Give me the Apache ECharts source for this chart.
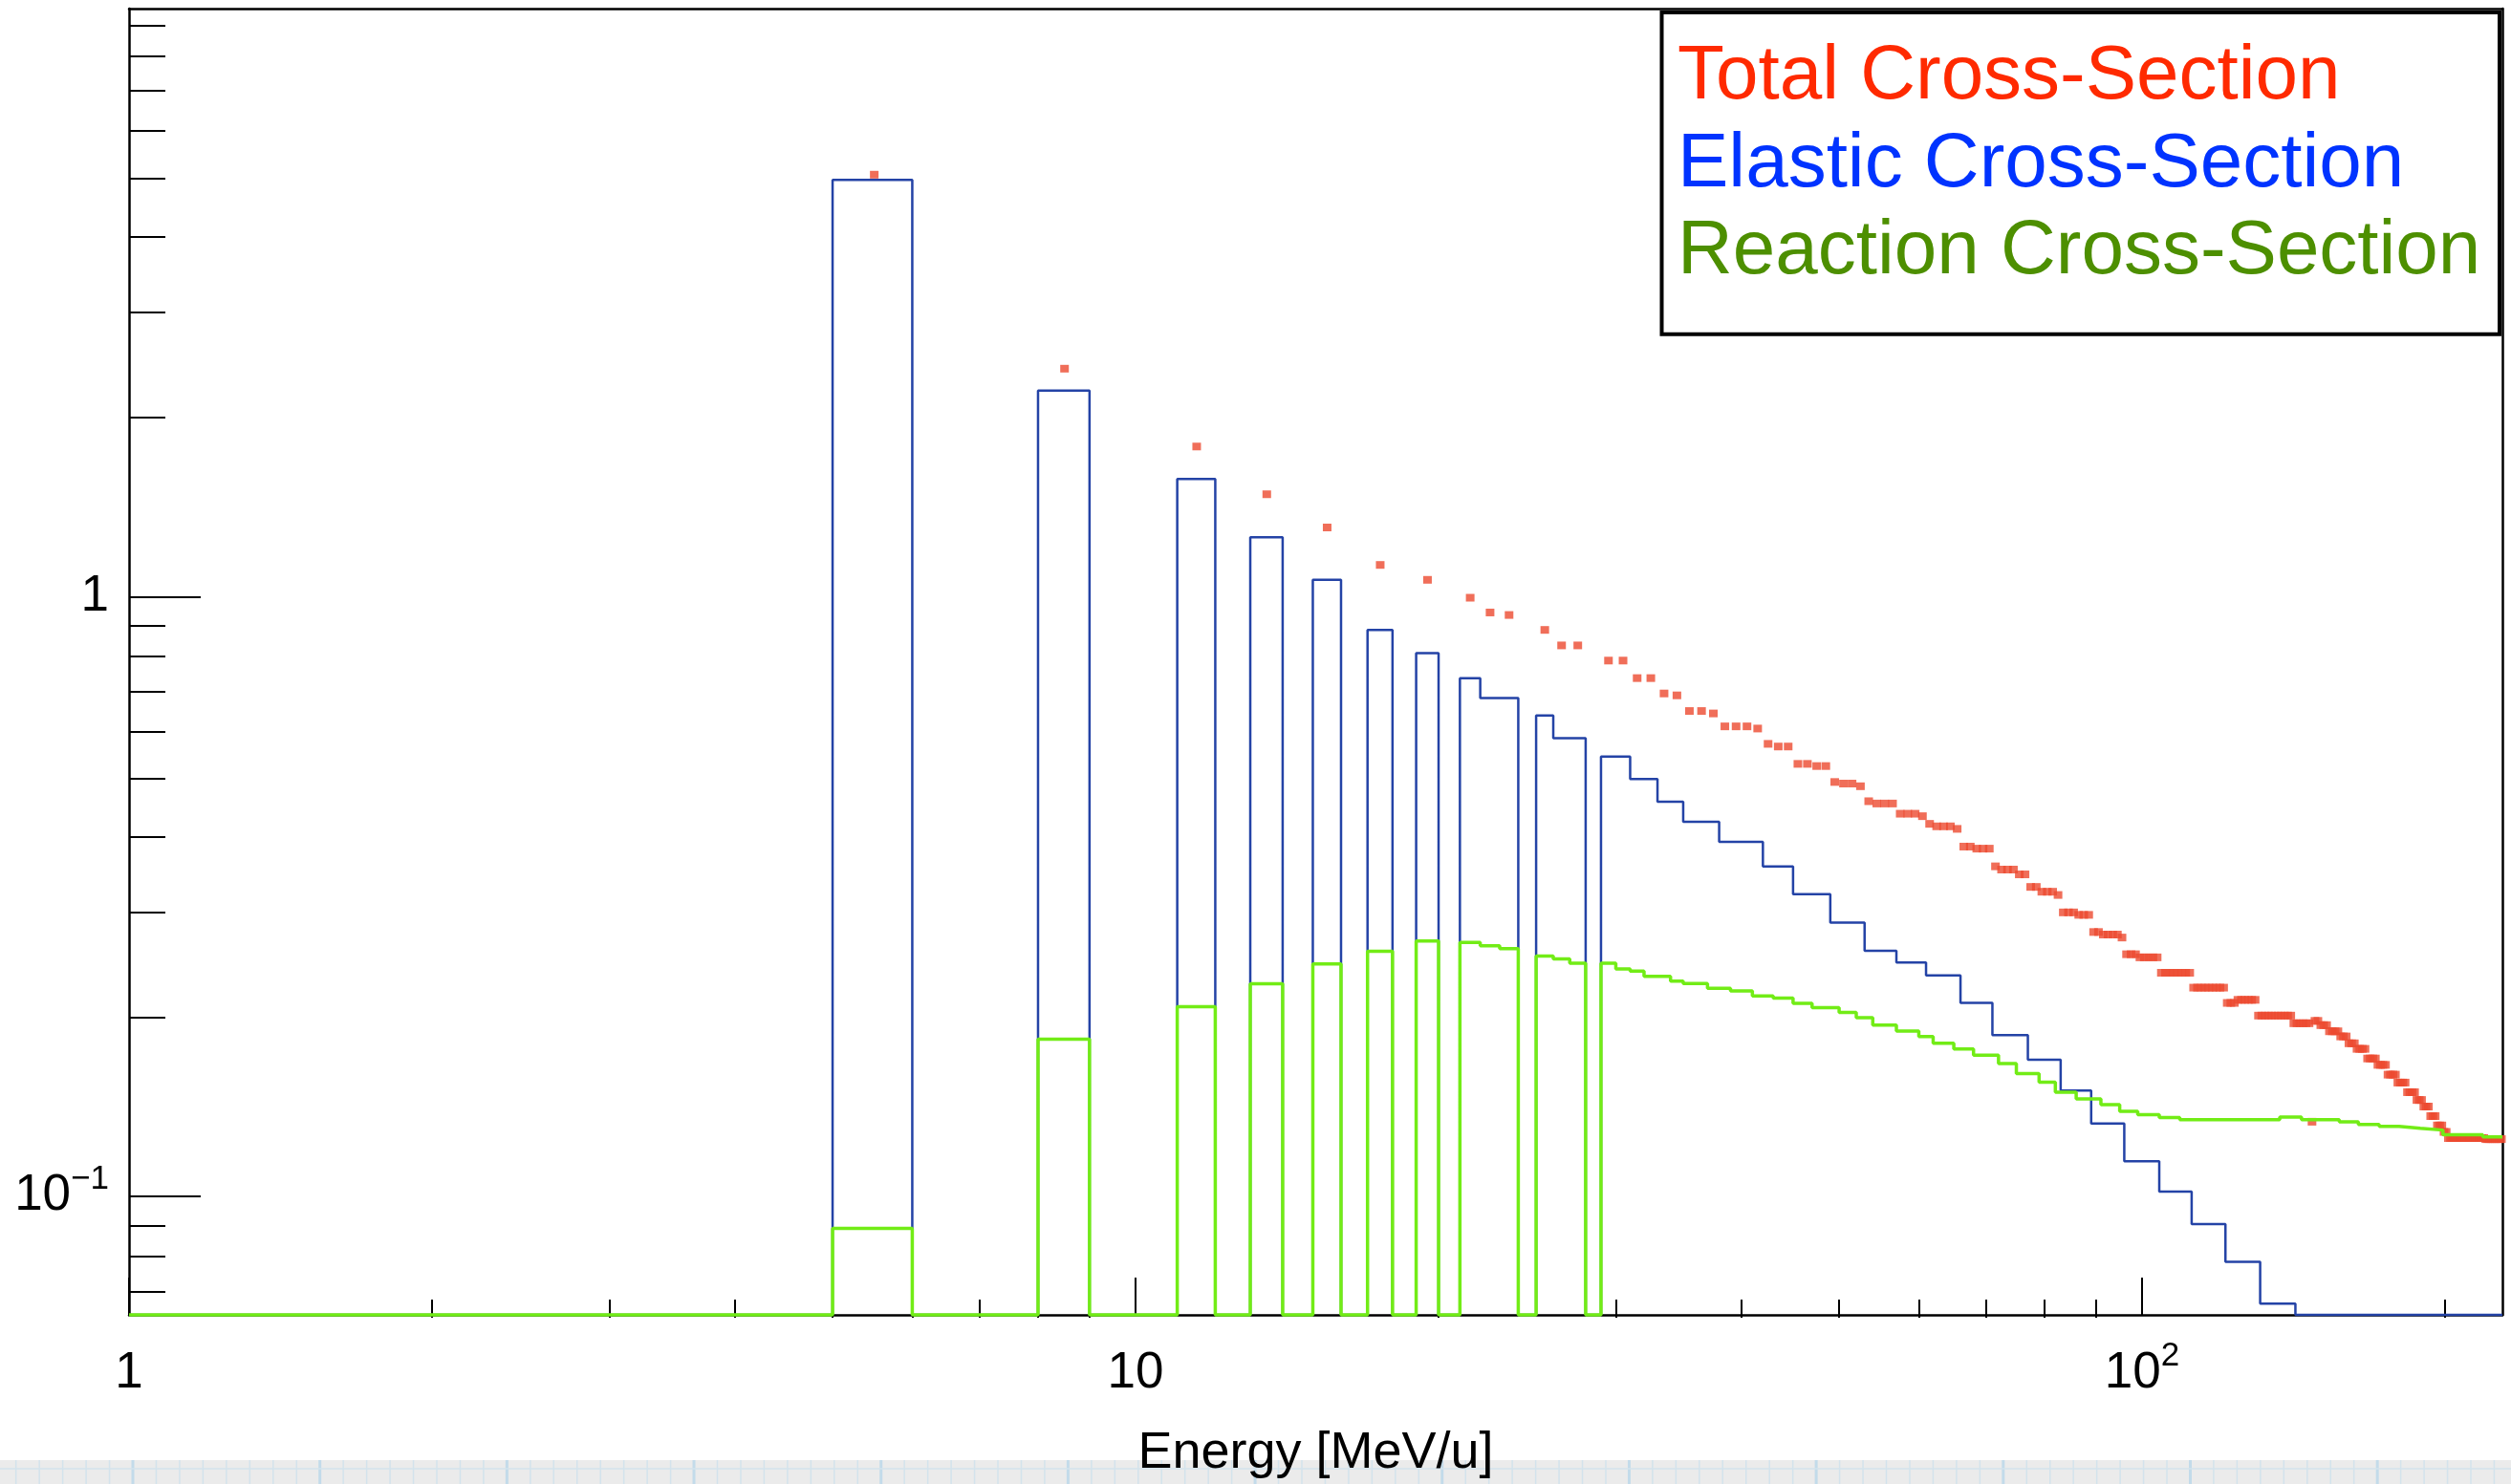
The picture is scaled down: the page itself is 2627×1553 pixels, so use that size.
<!DOCTYPE html>
<html>
<head>
<meta charset="utf-8">
<script src="https://cdn.jsdelivr.net/npm/echarts@6/dist/echarts.min.js"></script>
<style>
html,body{margin:0;padding:0;background:#fff;}
#chart{width:2627px;height:1553px;}
</style>
</head>
<body>
<div id="chart"></div>
<script>
// ---------------- data ----------------
// Histograms with 1 MeV/u bins; each value holds from edge[i] to edge[i+1]; 0 = empty bin
const elasticEdges = [1,5,6,8,9,11,12,13,14,15,16,17,18,19,20,21,22,24,25,26,28,29,31,33,35,38,42,45,49,53,57,61,66,71,77,83,89,96,104,112,121,131,142,228];
const elasticValues = [0,4.97,0,2.21,0,1.574,0,1.258,0,1.068,0,0.8805,0,0.806,0,0.7316,0.678,0,0.634,0.581,0,0.5413,0.4966,0.4551,0.4214,0.3901,0.355,0.3189,0.2859,0.2566,0.2453,0.2334,0.2101,0.1856,0.1688,0.150,0.1321,0.1142,0.1017,0.0897,0.0776,0.0661,0];

const reactionEdges = [1,5,6,8,9,11,12,13,14,15,16,17,18,19,20,21,22,23,24,25,26,27,28,29,30,31,32,34,35,37,39,41,43,45,47,50,52,54,57,60,62,65,68,72,75,79,82,86,91,95,99,104,109,137,144,157,164,172,180,189,199,218,228];
const reactionValues = [0,0.0883,0,0.1827,0,0.207,0,0.226,0,0.244,0,0.2561,0,0.2664,0,0.2649,0.2615,0.2588,0,0.2515,0.2488,0.2447,0,0.2446,0.2394,0.2374,0.2326,0.2283,0.2262,0.2222,0.22,0.2158,0.214,0.2097,0.2063,0.2024,0.1984,0.1928,0.1885,0.1845,0.1799,0.176,0.1718,0.1663,0.1601,0.1548,0.149,0.1452,0.142,0.1384,0.1367,0.1351,0.1341,0.1354,0.1341,0.133,0.1316,0.1306,0.1297,0.1288,0.1265,0.1255];

const totalEdges = [1,5,6,8,9,11,12,13,14,15,16,17,18,19,20,21,22,23,24,25,26,28,29,31,33,34,35,37,38,41,42,43,45,47,49,50,52,53,54,57,60,61,62,65,66,68,71,72,75,77,79,82,83,86,89,91,95,96,99,104,112,121,124,130,141,147,148,150,153,157,160,163,167,171,175,179,183,187,190,193,196,199,201,219,228];
const totalValues = [0,5.07,0,2.405,0,1.783,0,1.484,0,1.306,0,1.131,0,1.068,0,0.997,0.942,0.933,0,0.881,0.830,0,0.783,0.732,0.690,0.685,0.645,0.639,0.608,0.603,0.5685,0.5627,0.5264,0.522,0.491,0.488,0.483,0.456,0.452,0.4346,0.4305,0.418,0.414,0.410,0.383,0.380,0.355,0.3506,0.3442,0.328,0.322,0.318,0.2974,0.2946,0.2758,0.2731,0.27,0.2532,0.2502,0.2358,0.2227,0.21,0.2125,0.20,0.1942,0.133,0.196,0.1928,0.1883,0.1846,0.1798,0.176,0.1696,0.1655,0.1594,0.1546,0.149,0.1446,0.141,0.1359,0.1311,0.1279,0.1249,0.1244];

// axis ticks
const xMajorTicks = [1, 10, 100];
const xMinorTicks = [2,3,4,5,6,7,8,9,20,30,40,50,60,70,80,90,200];
const yMajorTicks = [0.1, 1];
const yMinorTicks = [0.07,0.08,0.09,0.2,0.3,0.4,0.5,0.6,0.7,0.8,0.9,2,3,4,5,6,7,8,9];

const X_MIN = 1, X_MAX = 228, Y_MIN = 0.0633, Y_MAX = 9.6;
const FONT = "'Liberation Sans', Arial, Helvetica, sans-serif";

// ---------------- build series data ----------------
function stepLine(edges, vals) {
  const pts = [];
  for (let i = 0; i < vals.length; i++) {
    const v = vals[i] > 0 ? vals[i] : Y_MIN;   // empty bins sit on the frame bottom
    pts.push([edges[i], v], [edges[i + 1], v]);
  }
  return pts;
}
function binMarkers(edges, vals) {
  const pts = [];
  for (let i = 0; i < vals.length; i++) {
    if (!(vals[i] > 0)) continue;
    for (let n = edges[i]; n < edges[i + 1]; n++) pts.push([n + 0.5, vals[i]]);
  }
  return pts;
}

function powLabel(v) {
  const p = Math.round(Math.log10(v));
  if (p === 0) return '{b|1}';
  if (p === 1) return '{b|10}';
  return '{b|10}{s|' + (p < 0 ? '\u2212' : '') + Math.abs(p) + '}';
}
const RICH = {
  b: { fontSize: 53, lineHeight: 70, fontFamily: FONT, color: '#000' },
  s: { fontSize: 35, lineHeight: 36, verticalAlign: 'top', fontFamily: FONT, color: '#000' }
};

const AX = { color: '#000', width: 2.5 };
const TK = { color: '#000', width: 2 };

function logAxis(extra) {
  return Object.assign({
    type: 'log', logBase: 10,
    splitLine: { show: false }, minorTick: { show: false }, minorSplitLine: { show: false },
    axisPointer: { show: false }
  }, extra);
}

// ---------------- decoration (grey paper strip at the bottom) ----------------
const stripEls = [{ type: 'rect', z: -2, shape: { x: 0, y: 1528, width: 2627, height: 25 }, style: { fill: '#ebebeb' } }];
for (let k = 0; k < 108; k++) {
  const x = 16.7 + 24.46 * k;
  stripEls.push({ type: 'line', z: -1, shape: { x1: x, y1: 1528, x2: x, y2: 1553 },
    style: { stroke: (k % 8 === 5) ? '#c3dbea' : '#d3e3ec', lineWidth: (k % 8 === 5) ? 3 : 1.5 } });
}
stripEls.push({ type: 'line', z: -1, shape: { x1: 0, y1: 1537, x2: 2627, y2: 1537 }, style: { stroke: '#d3e3ec', lineWidth: 1.5 } });

const legendEls = [
  { type: 'rect', z: 100, shape: { x: 1738.5, y: 13, width: 876.5, height: 336.7 },
    style: { fill: '#fff', stroke: '#000', lineWidth: 4 } },
  { type: 'text', z: 101, x: 1755, y: 81, style: { text: 'Total Cross-Section', fill: '#ff2a00', fontSize: 80, fontFamily: FONT, verticalAlign: 'middle', align: 'left' } },
  { type: 'text', z: 101, x: 1755, y: 173, style: { text: 'Elastic Cross-Section', fill: '#0033ff', fontSize: 80, fontFamily: FONT, verticalAlign: 'middle', align: 'left' } },
  { type: 'text', z: 101, x: 1755, y: 264, style: { text: 'Reaction Cross-Section', fill: '#4d8f00', fontSize: 80, fontFamily: FONT, verticalAlign: 'middle', align: 'left' } }
];

const chart = echarts.init(document.getElementById('chart'), null, { renderer: 'canvas' });
const gridBox = { left: 135, right: 9, top: 9, bottom: 174 };
chart.setOption({
  animation: false,
  backgroundColor: '#ffffff',
  grid: [Object.assign({}, gridBox), Object.assign({}, gridBox)],
  xAxis: [
    logAxis({
      gridIndex: 0, position: 'bottom', min: X_MIN, max: X_MAX,
      name: 'Energy [MeV/u]', nameLocation: 'middle', nameGap: 118,
      nameTextStyle: { fontSize: 54, fontFamily: FONT, color: '#000' },
      axisLine: { show: true, onZero: false, lineStyle: AX },
      axisTick: { show: true, inside: true, length: 39, customValues: xMajorTicks, lineStyle: TK },
      axisLabel: { show: true, customValues: xMajorTicks, margin: 26, formatter: powLabel, rich: RICH }
    }),
    logAxis({
      gridIndex: 0, position: 'top', min: X_MIN, max: X_MAX,
      axisLine: { show: true, onZero: false, lineStyle: AX },
      axisTick: { show: false }, axisLabel: { show: false }
    }),
    logAxis({
      gridIndex: 1, position: 'bottom', min: X_MIN, max: X_MAX,
      axisLine: { show: false, onZero: false },
      axisTick: { show: true, inside: true, length: 19, customValues: xMinorTicks, lineStyle: TK },
      axisLabel: { show: false }
    })
  ],
  yAxis: [
    logAxis({
      gridIndex: 0, position: 'left', min: Y_MIN, max: Y_MAX,
      axisLine: { show: true, onZero: false, lineStyle: AX },
      axisTick: { show: true, inside: true, length: 75, customValues: yMajorTicks, lineStyle: TK },
      axisLabel: { show: true, customValues: yMajorTicks, margin: 21, formatter: powLabel, rich: RICH }
    }),
    logAxis({
      gridIndex: 0, position: 'right', min: Y_MIN, max: Y_MAX,
      axisLine: { show: true, onZero: false, lineStyle: AX },
      axisTick: { show: false }, axisLabel: { show: false }
    }),
    logAxis({
      gridIndex: 1, position: 'left', min: Y_MIN, max: Y_MAX,
      axisLine: { show: false, onZero: false },
      axisTick: { show: true, inside: true, length: 38, customValues: yMinorTicks, lineStyle: TK },
      axisLabel: { show: false }
    })
  ],
  graphic: { elements: stripEls.concat(legendEls) },
  series: [
    {
      name: 'Elastic Cross-Section', type: 'line', xAxisIndex: 0, yAxisIndex: 0,
      data: stepLine(elasticEdges, elasticValues), showSymbol: false, symbol: 'none',
      clip: false, lineStyle: { color: '#2443a6', width: 2.5 }, z: 3, silent: true
    },
    {
      name: 'Total Cross-Section', type: 'scatter', xAxisIndex: 0, yAxisIndex: 0,
      data: binMarkers(totalEdges, totalValues), symbol: 'rect', symbolSize: [9, 8],
      itemStyle: { color: '#ec4a2f' }, z: 4, silent: true
    },
    {
      name: 'Reaction Cross-Section', type: 'line', xAxisIndex: 0, yAxisIndex: 0,
      data: stepLine(reactionEdges, reactionValues), showSymbol: false, symbol: 'none',
      clip: false, lineStyle: { color: '#72ec16', width: 3.5 }, z: 5, silent: true
    }
  ]
});
</script>
</body>
</html>
